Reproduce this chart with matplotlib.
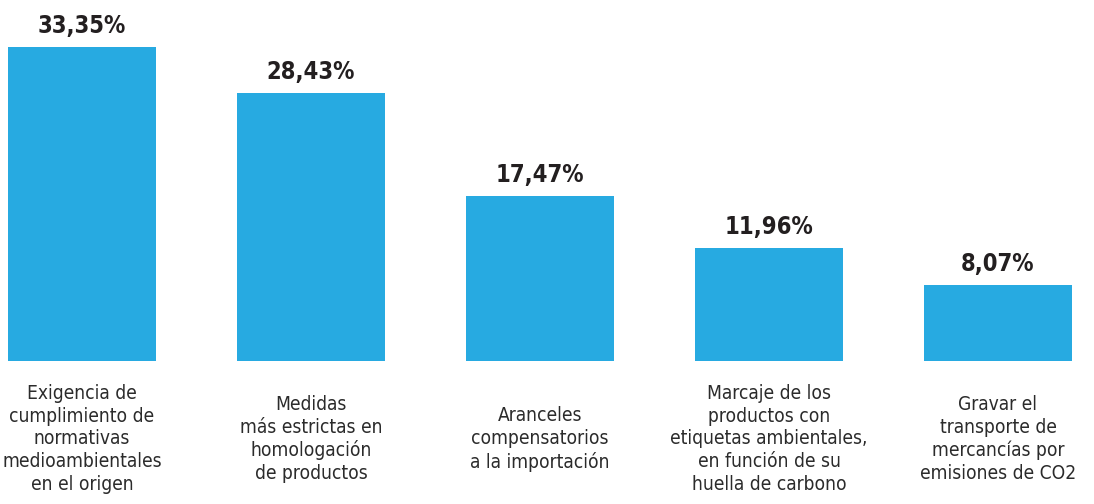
import matplotlib
matplotlib.use("Agg")
import matplotlib.pyplot as plt

categories = [
    "Exigencia de\ncumplimiento de\nnormativas\nmedioambientales\nen el origen",
    "Medidas\nmás estrictas en\nhomologación\nde productos",
    "Aranceles\ncompensatorios\na la importación",
    "Marcaje de los\nproductos con\netiquetas ambientales,\nen función de su\nhuella de carbono",
    "Gravar el\ntransporte de\nmercancías por\nemisiones de CO2",
]
values = [33.35, 28.43, 17.47, 11.96, 8.07]
value_labels = ["33,35%", "28,43%", "17,47%", "11,96%", "8,07%"]

W, H = 1094, 504
fig = plt.figure(figsize=(W / 100, H / 100), dpi=100)
bottom_px = 143
ax = fig.add_axes([0, bottom_px / H, 1, (H - bottom_px) / H])
ax.set_axis_off()

spacing = 229.0
x0 = 82.0
ax.set_xlim(-x0 / spacing, (W - x0) / spacing)
ax.set_ylim(0, (H - bottom_px) / 9.42)

xs = list(range(len(values)))
ax.bar(xs, values, width=148 / spacing, color="#27AAE1")

for x, v, lab, cat in zip(xs, values, value_labels, categories):
    ax.annotate(lab, (x, v), xytext=(0, 9), textcoords="offset pixels",
                ha="center", va="bottom", fontsize=17, fontweight="heavy",
                fontstretch="condensed", family="DejaVu Sans", color="#231F20")
    ax.annotate(cat, (x, 0), xytext=(0, -78), textcoords="offset pixels",
                ha="center", va="center", fontsize=13.8, family="DejaVu Sans",
                fontstretch="condensed", color="#2B2B2B", linespacing=1.24,
                annotation_clip=False)

fig.savefig("out.png", dpi=100)
